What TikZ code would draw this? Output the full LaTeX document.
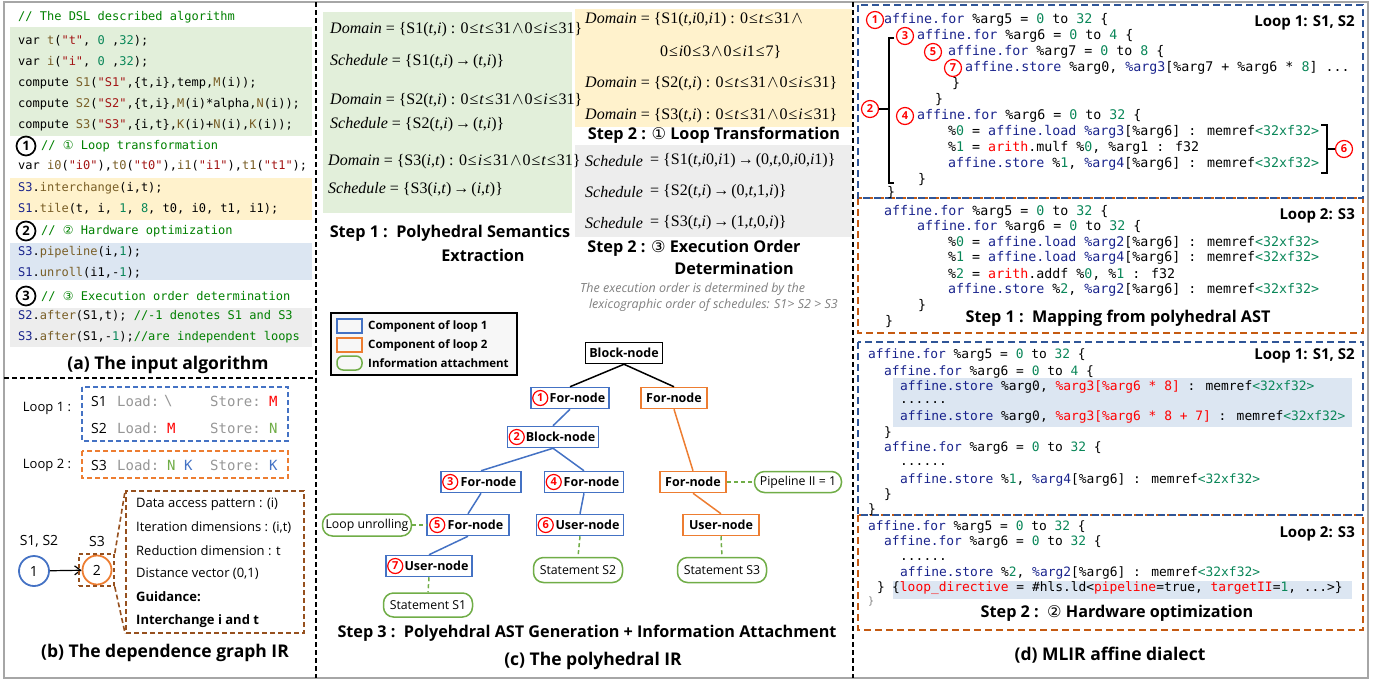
\documentclass[tikz,border=0pt]{standalone}
\usepackage{fontspec}
\setmainfont{Open Sans}
\newfontfamily\cfont{DejaVu Sans Mono}
\newfontfamily\tms{Liberation Serif}
\newfontfamily\dvs{DejaVu Serif}
\newfontfamily\dv{DejaVu Sans}
\usetikzlibrary{arrows.meta}

\newcommand{\fs}[1]{\fontsize{#1}{#1}\selectfont}
% syntax colours
\definecolor{cmtc}{RGB}{0,128,0}
\definecolor{fnc}{RGB}{121,94,38}
\definecolor{strc}{RGB}{163,21,21}
\definecolor{numc}{RGB}{9,134,88}
\definecolor{navy}{RGB}{25,35,140}
% fills and outlines
\definecolor{bgGreen}{RGB}{226,239,218}
\definecolor{bgYellow}{RGB}{255,242,204}
\definecolor{bgBlue}{RGB}{220,230,242}
\definecolor{bgGray}{RGB}{237,237,237}
\definecolor{loopBlue}{RGB}{68,114,196}
\definecolor{loopOrange}{RGB}{237,125,49}
\definecolor{infoGreen}{RGB}{112,173,71}
\definecolor{dBlue}{RGB}{47,85,151}
\definecolor{dOrange}{RGB}{197,90,17}
\definecolor{brownD}{RGB}{150,80,30}
\definecolor{capGray}{RGB}{127,127,127}
\definecolor{ldGray}{RGB}{150,150,150}

\newcommand{\cmt}[1]{\textcolor{cmtc}{#1}}
\newcommand{\fn}[1]{\textcolor{fnc}{#1}}
\newcommand{\strg}[1]{\textcolor{strc}{#1}}
\newcommand{\nm}[1]{\textcolor{numc}{#1}}
\newcommand{\kw}[1]{\textcolor{navy}{#1}}
\newcommand{\rd}[1]{\textcolor{red}{#1}}
\newcommand{\mi}[1]{\textit{#1}}
\newcommand{\lle}{\hspace{1pt}≤\hspace{1pt}}
\newcommand{\lan}{{\hspace{1pt}$\wedge$\hspace{1pt}}}
\newcommand{\rarr}{\hspace{2pt}→\hspace{2pt}}

\tikzset{
  codeA/.style={anchor=west, inner sep=0pt, font=\cfont\fs{12}},
  codeD/.style={anchor=west, inner sep=0pt, font=\cfont\fs{13.3}},
  codeE/.style={anchor=west, inner sep=0pt, font=\cfont\fs{12.9}},
  mathT/.style={anchor=west, inner sep=0pt, font=\tms\fs{16}},
  headA/.style={inner sep=0pt, font=\bfseries\fs{17.5}},
  stepH/.style={inner sep=0pt, font=\bfseries\fs{16.2}},
  plain/.style={inner sep=0pt, font=\fs{13}},
  ldtxt/.style={anchor=west, inner sep=0pt, font=\cfont\fs{14}, text=ldGray},
  bignum/.style={circle, draw=black, line width=1.7pt, inner sep=0pt, minimum size=19pt, font=\bfseries\fs{13}},
  rednum/.style={circle, draw=red, line width=1.2pt, inner sep=0pt, minimum size=15pt, font=\bfseries\fs{11}, text=red},
  treeN/.style={line width=1.5pt, font=\bfseries\fs{12.5}, inner xsep=3pt, minimum height=21pt, fill=white},
  treeBlue/.style={treeN, draw=loopBlue},
  treeOra/.style={treeN, draw=loopOrange},
  treeBlk/.style={treeN, draw=black},
  infoN/.style={draw=infoGreen, line width=1.5pt, rounded corners=10pt, font=\fs{12.3}, inner xsep=3pt, fill=white},
  sepline/.style={black, line width=1.5pt, dash pattern=on 5pt off 3pt},
  dboxB/.style={draw=dBlue, line width=2pt, dash pattern=on 7pt off 4pt},
  dboxO/.style={draw=dOrange, line width=2pt, dash pattern=on 7pt off 4pt},
  loopLab/.style={anchor=east, inner sep=0pt, font=\bfseries\fs{15}},
  legT/.style={anchor=west, inner sep=0pt, font=\bfseries\fs{11.5}},
  eBlue/.style={draw=loopBlue, line width=1.5pt},
  eOra/.style={draw=loopOrange, line width=1.5pt},
  eGreen/.style={draw=infoGreen, line width=1.5pt, dash pattern=on 4pt off 3pt},
}

\begin{document}
\begin{tikzpicture}[x=1pt,y=-1pt]
\useasboundingbox (0,0) rectangle (1379,681);

% ---------- frame and separators ----------
\draw[gray!70, line width=2pt] (4,2) rectangle (1368,678);
\draw[sepline] (316,2) -- (316,678);
\draw[sepline] (853,2) -- (853,678);
\draw[sepline] (4,378) -- (316,378);

% ---------- (a) the input algorithm ----------
\fill[bgGreen]  (10,27)  rectangle (312,136);
\fill[bgYellow] (10,178) rectangle (312,220);
\fill[bgBlue]   (10,243) rectangle (312,280);
\fill[bgGray]   (10,308) rectangle (312,347);

\node[codeA] (a0) at (18,17) {\cmt{// The DSL described algorithm}};
\node[codeA] (a1) at (18,41) {var \fn{t}(\strg{"t"}, \nm{0} ,\nm{32});};
\node[codeA] (a2) at (18,62) {var \fn{i}(\strg{"i"}, \nm{0} ,\nm{32});};
\node[codeA] (a3) at (18,83) {compute \fn{S1}(\strg{"S1"},\{t,i\},temp,\fn{M}(i));};
\node[codeA] (a4) at (18,104) {compute \fn{S2}(\strg{"S2"},\{t,i\},\fn{M}(i)*alpha,\fn{N}(i));};
\node[codeA] (a5) at (18,125) {compute \fn{S3}(\strg{"S3"},\{i,t\},\fn{K}(i)+\fn{N}(i),\fn{K}(i));};

\node[bignum] (n1) at (26,146) {1};
\node[codeA] (a6) at (41,146) {\cmt{// {\dv ①} Loop transformation}};
\node[codeA] (a7) at (18,166) {var \fn{i0}(\strg{"i0"}),\fn{t0}(\strg{"t0"}),\fn{i1}(\strg{"i1"}),\fn{t1}(\strg{"t1"});};
\node[codeA] (a8) at (18,188) {\kw{S3}.\fn{interchange}(i,t);};
\node[codeA] (a9) at (18,209) {\kw{S1}.\fn{tile}(t, i, \nm{1}, \nm{8}, t0, i0, t1, i1);};

\node[bignum] (n2) at (26,231) {2};
\node[codeA] (a10) at (41,231) {\cmt{// {\dv ②} Hardware optimization}};
\node[codeA] (a11) at (18,252) {\kw{S3}.\fn{pipeline}(i,\nm{1});};
\node[codeA] (a12) at (18,273) {\kw{S1}.\fn{unroll}(i1,-\nm{1});};

\node[bignum] (n3) at (26,296) {3};
\node[codeA] (a13) at (41,296) {\cmt{// {\dv ③} Execution order determination}};
\node[codeA] (a14) at (18,316) {\kw{S2}.\fn{after}(S1,t); \cmt{//-1 denotes S1 and S3}};
\node[codeA] (a15) at (18,337) {\kw{S3}.\fn{after}(S1,-\nm{1});\cmt{//are independent loops}};

\node[headA] (capA) at (168,365) {(a) The input algorithm};

% ---------- (b) the dependence graph IR ----------
\draw[draw=loopBlue, line width=1.8pt, dash pattern=on 5pt off 3pt] (82,387) rectangle (288,441);
\draw[draw=loopOrange, line width=1.8pt, dash pattern=on 5pt off 3pt] (82,451) rectangle (288,478);
\node[plain] (lp1) at (47,408) {Loop 1 :};
\node[plain] (lp2) at (47,465) {Loop 2 :};

\node[plain, anchor=west, font=\fs{14}] (r1s) at (91,401) {S1};
\node[ldtxt] (r1l) at (117,401) {Load:};
\node[ldtxt] (r1v) at (164,401) {\textbackslash};
\node[ldtxt] (r1t) at (210,401) {Store:};
\node[ldtxt, text=red] (r1w) at (269,401) {M};

\node[plain, anchor=west, font=\fs{14}] (r2s) at (91,428) {S2};
\node[ldtxt] (r2l) at (117,428) {Load:};
\node[ldtxt, text=red] (r2v) at (167,428) {M};
\node[ldtxt] (r2t) at (210,428) {Store:};
\node[ldtxt, text=infoGreen] (r2w) at (269,428) {N};

\node[plain, anchor=west, font=\fs{14}] (r3s) at (91,465) {S3};
\node[ldtxt] (r3l) at (117,465) {Load:};
\node[ldtxt, text=infoGreen] (r3v) at (167,465) {N};
\node[ldtxt, text=loopBlue] (r3k) at (184,465) {K};
\node[ldtxt] (r3t) at (210,465) {Store:};
\node[ldtxt, text=loopBlue] (r3w) at (269,465) {K};

\node[plain, font=\fs{14}] (g1l) at (39,541) {S1, S2};
\node[plain, font=\fs{14}] (g2l) at (97,541) {S3};
\node[circle, draw=loopBlue, line width=1.8pt, minimum size=30pt, inner sep=0pt, font=\fs{14}] (g1) at (34,571) {1};
\node[circle, draw=loopOrange, line width=1.8pt, minimum size=29pt, inner sep=0pt, font=\fs{14}] (g2) at (97,570) {2};
\draw[-{Straight Barb[length=6pt,width=9pt]}, line width=1.2pt] (g1) -- (g2);

\node[draw=brownD, line width=1.6pt, dash pattern=on 4pt off 3pt, minimum width=35pt, minimum height=32pt, inner sep=0pt] (sb) at (96.5,570) {};
\node[draw=brownD, line width=1.6pt, dash pattern=on 5pt off 3pt, minimum width=178pt, minimum height=142pt, inner sep=0pt] (bb) at (215,562) {};
\draw[brownD, line width=1.6pt, dash pattern=on 5pt off 3pt] (sb.north east) -- (bb.north west);
\draw[brownD, line width=1.6pt, dash pattern=on 5pt off 3pt] (sb.south east) -- (bb.south west);

\node[plain, anchor=west] (b1) at (136,504) {Data access pattern : (i)};
\node[plain, anchor=west] (b2) at (136,528) {Iteration dimensions : (i,t)};
\node[plain, anchor=west] (b3) at (136,551) {Reduction dimension : t};
\node[plain, anchor=west] (b4) at (136,574) {Distance vector (0,1)};
\node[plain, anchor=west, font=\bfseries\fs{13}] (b5) at (136,597) {Guidance:};
\node[plain, anchor=west, font=\bfseries\fs{13}] (b6) at (136,621) {Interchange i and t};

\node[headA] (capB) at (165,653) {(b) The dependence graph IR};

% ---------- (c) the polyhedral IR ----------
\fill[bgGreen]  (323,12)  rectangle (572,213);
\fill[bgYellow] (575,9)   rectangle (852,127);
\fill[bgGray]   (575,145) rectangle (852,237);

\node[mathT] (m1) at (330,30)  {\mi{Domain} = \{S1(\mi{t},\mi{i}) : 0\lle\mi{t}\lle31\lan0\lle\mi{i}\lle31\}};
\node[mathT] (m2) at (330,62)  {\mi{Schedule} = \{S1(\mi{t},\mi{i})\rarr(\mi{t},\mi{i})\}};
\node[mathT] (m3) at (330,101) {\mi{Domain} = \{S2(\mi{t},\mi{i}) : 0\lle\mi{t}\lle31\lan0\lle\mi{i}\lle31\}};
\node[mathT] (m4) at (330,125) {\mi{Schedule} = \{S2(\mi{t},\mi{i})\rarr(\mi{t},\mi{i})\}};
\node[mathT] (m5) at (328,162) {\mi{Domain} = \{S3(\mi{i},\mi{t}) : 0\lle\mi{i}\lle31\lan0\lle\mi{t}\lle31\}};
\node[mathT] (m6) at (328,190) {\mi{Schedule} = \{S3(\mi{i},\mi{t})\rarr(\mi{i},\mi{t})\}};
\node[stepH] (s1a) at (450,233) {Step 1 :\ \ Polyhedral Semantics};
\node[stepH] (s1b) at (483,255) {Extraction};

\node[mathT] (y1) at (585,20)  {\mi{Domain} = \{S1(\mi{t},\mi{i}0,\mi{i}1) : 0\lle\mi{t}\lle31\lan};
\node[mathT] (y2) at (660,52)  {0\lle\mi{i}0\lle3\lan0\lle\mi{i}1\lle7\}};
\node[mathT] (y3) at (585,84)  {\mi{Domain} = \{S2(\mi{t},\mi{i}) : 0\lle\mi{t}\lle31\lan0\lle\mi{i}\lle31\}};
\node[mathT] (y4) at (585,116) {\mi{Domain} = \{S3(\mi{t},\mi{i}) : 0\lle\mi{t}\lle31\lan0\lle\mi{i}\lle31\}};
\node[stepH] (s2a) at (714,135) {Step 2 : {\dv\mdseries ①} Loop Transformation};

\node[mathT] (q1a) at (585,161) {\mi{Schedule}};
\node[mathT] (q1b) at (650,161) {= \{S1(\mi{t},\mi{i}0,\mi{i}1)\rarr(0,\mi{t},0,\mi{i}0,\mi{i}1)\}};
\node[mathT] (q2a) at (585,192) {\mi{Schedule}};
\node[mathT] (q2b) at (650,192) {= \{S2(\mi{t},\mi{i})\rarr(0,\mi{t},1,\mi{i})\}};
\node[mathT] (q3a) at (585,223) {\mi{Schedule}};
\node[mathT] (q3b) at (650,223) {= \{S3(\mi{t},\mi{i})\rarr(1,\mi{t},0,\mi{i})\}};
\node[stepH] (s2b) at (694,248) {Step 2 : {\dv\mdseries ③} Execution Order};
\node[stepH] (s2c) at (734,268) {Determination};
\node[anchor=west, inner sep=0pt, font=\itshape\fs{12.5}, text=capGray] (it1) at (580,289) {The execution order is determined by the};
\node[anchor=east, inner sep=0pt, font=\itshape\fs{12.5}, text=capGray] (it2) at (838,305) {lexicographic order of schedules: S1> S2 > S3};

% legend
\draw[black, line width=1.5pt, fill=gray!6] (331,313) rectangle (517,375);
\draw[loopBlue, line width=1.5pt] (337,319) rectangle (362,333);
\draw[loopOrange, line width=1.5pt] (337,338) rectangle (362,352);
\draw[infoGreen, line width=1.5pt, rounded corners=6pt] (337,356) rectangle (362,370);
\node[legT] (lg1) at (368,326) {Component of loop 1};
\node[legT] (lg2) at (368,345) {Component of loop 2};
\node[legT] (lg3) at (368,363) {Information attachment};

% polyhedral AST
\node[treeBlk, minimum width=77pt] (B0) at (624,353) {Block-node};
\node[treeBlue, minimum width=78pt] (F1) at (570,398) {\hspace*{15pt}For-node};
\node[treeOra, minimum width=66pt] (OF1) at (674,398) {For-node};
\node[treeBlue, minimum width=91pt] (B2) at (553,437) {\hspace*{15pt}Block-node};
\node[treeBlue, minimum width=80pt] (F3) at (481,482) {\hspace*{15pt}For-node};
\node[treeBlue, minimum width=79pt] (F4) at (584,482) {\hspace*{15pt}For-node};
\node[treeOra, minimum width=66pt] (OF2) at (693,482) {For-node};
\node[treeBlue, minimum width=82pt] (F5) at (468,525) {\hspace*{15pt}For-node};
\node[treeBlue, minimum width=87pt] (U6) at (580,525) {\hspace*{15pt}User-node};
\node[treeOra, minimum width=76pt] (OU) at (721,525) {User-node};
\node[treeBlue, minimum width=86pt] (U7) at (429,566) {\hspace*{15pt}User-node};

\node[infoN, minimum width=87pt, minimum height=21pt] (PII) at (798,482) {Pipeline II = 1};
\node[infoN, minimum width=88pt, minimum height=22pt] (LU) at (367,525) {Loop unrolling};
\node[infoN, minimum width=89pt, minimum height=25pt] (SS2) at (578,570) {Statement S2};
\node[infoN, minimum width=89pt, minimum height=25pt] (SS3) at (722,570) {Statement S3};
\node[infoN, minimum width=89pt, minimum height=24pt] (SS1) at (428,605) {Statement S1};

\node[rednum] (k1) at ([xshift=10pt]F1.west) {1};
\node[rednum] (k2) at ([xshift=10pt]B2.west) {2};
\node[rednum] (k3) at ([xshift=10pt]F3.west) {3};
\node[rednum] (k4) at ([xshift=10pt]F4.west) {4};
\node[rednum] (k5) at ([xshift=11pt]F5.west) {5};
\node[rednum] (k6) at ([xshift=10pt]U6.west) {6};
\node[rednum] (k7) at ([xshift=10pt]U7.west) {7};

\draw[black, line width=1.5pt] (B0.south) -- (F1.north);
\draw[black, line width=1.5pt] (B0.south) -- (OF1.north);
\draw[eBlue] (F1.south) -- (B2.north);
\draw[eBlue] (B2.south) -- (F3.north);
\draw[eBlue] (B2.south) -- (F4.north);
\draw[eBlue] (F3.south) -- (F5.north);
\draw[eBlue] (F4.south) -- (U6.north);
\draw[eBlue] (F5.south) -- (U7.north);
\draw[eOra] (OF1.south) -- (OF2.north);
\draw[eOra] (OF2.south) -- (OU.north);
\draw[eGreen] (OF2.east) -- (PII.west);
\draw[eGreen] (LU.east) -- (F5.west);
\draw[eGreen] (U6.south) -- (SS2.north);
\draw[eGreen] (OU.south) -- (SS3.north);
\draw[eGreen] (U7.south) -- (SS1.north);

\node[stepH] (s3) at (587,633) {Step 3 :\ \ Polyehdral AST Generation + Information Attachment};
\node[headA] (capC) at (593,661) {(c) The polyhedral IR};

% ---------- (d) MLIR affine dialect ----------
\draw[dboxO] (858,198) rectangle (1363,333);
\draw[dboxB] (858,5) rectangle (1363,198);
\draw[dboxO] (858,515) rectangle (1363,630);
\draw[dboxB] (858,342) rectangle (1363,515);

% Step 1 mapping, loop 1
\node[codeD] (d1) at (884,20) {\kw{affine.for} \%arg5 = \nm{0} to \nm{32} \{};
\node[codeD] (d2) at (917,36) {\kw{affine.for} \%arg6 = \nm{0} to \nm{4} \{};
\node[codeD] (d3) at (948,52) {\kw{affine.for} \%arg7 = \nm{0} to \nm{8} \{};
\node[codeD] (d4) at (965,68) {\kw{affine.store} \%arg0, \kw{\%arg3}[\%arg7 + \%arg6 * \nm{8}] ...};
\node[codeD] (d5) at (952,84) {\}};
\node[codeD] (d6) at (935,100) {\}};
\node[codeD] (d7) at (917,116) {\kw{affine.for} \%arg6 = \nm{0} to \nm{32} \{};
\node[codeD] (d8) at (948,132) {\%\nm{0} = \kw{affine.load} \kw{\%arg3}[\%arg6] : memref\nm{<32xf32>}};
\node[codeD] (d9) at (948,148) {\%\nm{1} = \rd{arith}.mulf \%\nm{0}, \%arg1 : f32};
\node[codeD] (d10) at (948,164) {\kw{affine.store} \%\nm{1}, \kw{\%arg4}[\%arg6] : memref\nm{<32xf32>}};
\node[codeD] (d11) at (918,180) {\}};
\node[codeD] (d12) at (887,193) {\}};
\node[loopLab] (ll1) at (1355,23) {Loop 1: S1, S2};

\node[rednum, minimum size=17pt] (c1) at (875,20) {1};
\node[rednum, minimum size=17pt] (c3) at (905,36) {3};
\node[rednum, minimum size=17pt] (c5) at (933,52) {5};
\node[rednum, minimum size=17pt] (c7) at (953,68) {7};
\node[rednum, minimum size=17pt] (c4) at (905,116) {4};
\node[rednum, minimum size=17pt] (c2) at (870,109) {2};
\node[rednum, minimum size=17pt] (c6) at (1344,149) {6};
\coordinate (br2) at (889,109);
\coordinate (br6) at (1327,149);
\draw[black, line width=1.5pt] (894,38) -- (889,38) -- (889,183) -- (894,183);
\draw[black, line width=1.5pt] (br2) -- (c2.east);
\draw[black, line width=1.5pt] (1321,125) -- (1327,125) -- (1327,173) -- (1321,173);
\draw[black, line width=1.5pt] (br6) -- (c6.west);

% Step 1 mapping, loop 2
\node[codeD] (e1) at (884,212) {\kw{affine.for} \%arg5 = \nm{0} to \nm{32} \{};
\node[codeD] (e2) at (917,227) {\kw{affine.for} \%arg6 = \nm{0} to \nm{32} \{};
\node[codeD] (e3) at (948,243) {\%\nm{0} = \kw{affine.load} \kw{\%arg2}[\%arg6] : memref\nm{<32xf32>}};
\node[codeD] (e4) at (948,258) {\%\nm{1} = \kw{affine.load} \kw{\%arg4}[\%arg6] : memref\nm{<32xf32>}};
\node[codeD] (e5) at (948,274) {\%\nm{2} = \rd{arith}.addf \%\nm{0}, \%\nm{1} : f32};
\node[codeD] (e6) at (948,290) {\kw{affine.store} \%\nm{2}, \kw{\%arg2}[\%arg6] : memref\nm{<32xf32>}};
\node[codeD] (e7) at (918,306) {\}};
\node[codeD] (e8) at (885,322) {\}};
\node[loopLab] (ll2) at (1355,216) {Loop 2: S3};
\node[stepH] (sd1) at (1118,318) {Step 1 :\ \ Mapping from polyhedral AST};

% Step 2 hardware optimization, loop 1
\fill[bgBlue] (893,378) rectangle (1352,427);
\node[codeE] (f1) at (868,355) {\kw{affine.for} \%arg5 = \nm{0} to \nm{32} \{};
\node[codeE] (f2) at (884,372) {\kw{affine.for} \%arg6 = \nm{0} to \nm{4} \{};
\node[codeE] (f3) at (900,387) {\kw{affine.store} \%arg0, \rd{\%arg3[\%arg6 * 8]} : memref\nm{<32xf32>}};
\node[codeE] (f4) at (900,403) {......};
\node[codeE] (f5) at (900,417) {\kw{affine.store} \%arg0, \rd{\%arg3[\%arg6 * 8 + 7]} : memref\nm{<32xf32>}};
\node[codeE] (f6) at (884,433) {\}};
\node[codeE] (f7) at (884,448) {\kw{affine.for} \%arg6 = \nm{0} to \nm{32} \{};
\node[codeE] (f8) at (900,465) {......};
\node[codeE] (f9) at (900,480) {\kw{affine.store} \%\nm{1}, \kw{\%arg4}[\%arg6] : memref\nm{<32xf32>}};
\node[codeE] (f10) at (884,495) {\}};
\node[codeE] (f11) at (868,510) {\}};
\node[loopLab] (ll3) at (1355,356) {Loop 1: S1, S2};

% Step 2 hardware optimization, loop 2
\fill[bgBlue] (893,581) rectangle (1352,599);
\node[codeE] (g1c) at (868,527) {\kw{affine.for} \%arg5 = \nm{0} to \nm{32} \{};
\node[codeE] (g2c) at (884,542) {\kw{affine.for} \%arg6 = \nm{0} to \nm{32} \{};
\node[codeE] (g3c) at (900,560) {......};
\node[codeE] (g4c) at (900,573) {\kw{affine.store} \%\nm{2}, \kw{\%arg2}[\%arg6] : memref\nm{<32xf32>}};
\node[codeE] (g5c) at (877,588) {\}};
\node[codeE] (g6c) at (892,588) {\{\rd{loop\_directive} = \#hls.ld<\rd{pipeline}=true, \rd{targetII}=\nm{1}, ...>\}};
\node[codeE, font=\cfont\fs{10}, text=gray] (g7c) at (868,602) {\}};
\node[loopLab] (ll4) at (1355,534) {Loop 2: S3};
\node[stepH] (sd2) at (1117,613) {Step 2 :\ \ {\dv\mdseries ②} Hardware optimization};

\node[headA] (capD) at (1110,655) {(d) MLIR affine dialect};
\end{tikzpicture}
\end{document}
